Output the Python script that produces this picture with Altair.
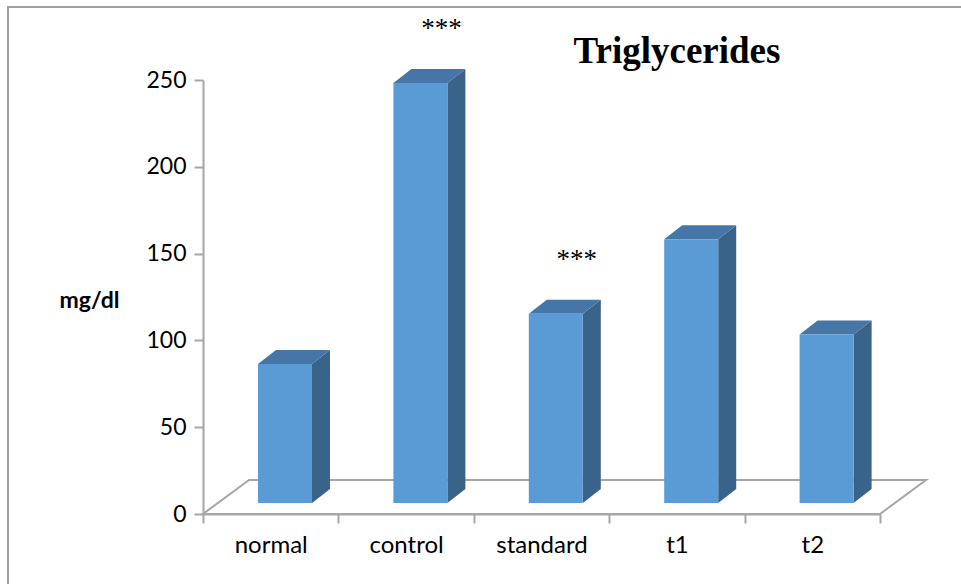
import altair as alt
import pandas as pd

# ---------------- data ----------------
categories = ["normal", "control", "standard", "t1", "t2"]
values = [80, 242, 109, 152, 97]
stars = ["", "***", "***", "", ""]
y_ticks = [0, 50, 100, 150, 200, 250]
chart_title = "Triglycerides"

# ---------------- layout / projection (style) ----------------
W, H = 677, 434
Y_MAX = 250
N = len(categories)
PX_X = W / N          # px per x unit
PX_Y = H / Y_MAX      # px per value unit
FRONT_L = 55 / PX_X   # front face left inside a category slot
FRONT_W = 54 / PX_X   # front face width
DEPTH_X = 18 / PX_X   # bar depth (oblique) horizontal
DEPTH_Y = 14 / PX_Y   # bar depth (oblique) vertical
BASE = 11 / PX_Y      # bar front base above the floor front edge
FLOOR_X = 46 / PX_X
FLOOR_Y = 34 / PX_Y
STAR_OFF = 31

FRONT = "#5B9BD5"
SIDE = "#3A6389"
TOP = "#4676A8"
GRAY = "#A6A6A6"

front_rows, side_rows, top_rows, star_rows = [], [], [], []
for i, (c, v, s) in enumerate(zip(categories, values, stars)):
    xl = i + FRONT_L
    xr = xl + FRONT_W
    front_rows.append(dict(cat=c, x=xl, x2=xr, y=BASE, y2=BASE + v))
    side_rows += [
        dict(cat=c, x=xr, y=BASE, y2=BASE + v),
        dict(cat=c, x=xr + DEPTH_X, y=BASE + DEPTH_Y, y2=BASE + v + DEPTH_Y),
    ]
    top_rows += [
        dict(cat=c, y=BASE + v, x=xl, x2=xr),
        dict(cat=c, y=BASE + v + DEPTH_Y, x=xl + DEPTH_X, x2=xr + DEPTH_X),
    ]
    if s:
        star_rows.append(dict(cat=c, s=s, x=xl + (FRONT_W + DEPTH_X) / 2,
                              y=BASE + v + STAR_OFF))

floor = pd.DataFrame([
    dict(y=0, x=0, x2=N),
    dict(y=FLOOR_Y, x=FLOOR_X, x2=N + FLOOR_X),
])

xscale = alt.Scale(domain=[0, N], nice=False, zero=False)
yscale = alt.Scale(domain=[0, Y_MAX], nice=False)

label_list = "[" + ",".join("'" + c + "'" for c in categories) + ",'']"
xaxis = alt.Axis(
    values=list(range(N + 1)), labelExpr=label_list + "[datum.value]",
    labelOffset=PX_X / 2, labelFlush=False, labelOverlap=False, labelBound=False,
    grid=False, domainColor=GRAY, domainWidth=2, tickColor=GRAY, tickWidth=2,
    tickSize=9, labelFont="Lato", labelFontSize=24, labelColor="#000000",
    labelPadding=10, title=None,
)
yaxis = alt.Axis(
    values=y_ticks, grid=False, domainColor=GRAY, domainWidth=2, tickColor=GRAY,
    tickWidth=2, tickSize=9, labelFont="Lato", labelFontSize=23,
    labelColor="#000000", labelPadding=8,
    title="mg/dl", titleAngle=0, titleFont="Lato", titleFontSize=23,
    titleFontWeight="bold", titleColor="#000000", titleX=-114, titleY=220,
    titleAlign="center", titleBaseline="middle",
)

def X(field="x"):
    return alt.X(field, type="quantitative", scale=xscale, axis=xaxis)

def Y(field="y"):
    return alt.Y(field, type="quantitative", scale=yscale, axis=yaxis)

one = pd.DataFrame([{"t": chart_title}])

frame = alt.Chart(one).mark_rect(
    filled=False, stroke="#A0A0A0", strokeWidth=2
).encode(
    x=alt.value(-195), x2=alt.value(900), y=alt.value(-73), y2=alt.value(700)
)

title_layer = alt.Chart(one).mark_text(
    font="Liberation Serif", fontSize=37, fontWeight="bold", color="#000000",
    align="center", baseline="alphabetic"
).encode(x=alt.value(474), y=alt.value(-17), text="t")

floor_layer = alt.Chart(floor).mark_area(
    orient="horizontal", fill="white", stroke=GRAY, strokeWidth=2
).encode(y=Y(), x=X(), x2="x2")

side_layer = alt.Chart(pd.DataFrame(side_rows)).mark_area(color=SIDE).encode(
    x=X(), y=Y(), y2="y2", detail="cat"
)
top_layer = alt.Chart(pd.DataFrame(top_rows)).mark_area(
    orient="horizontal", color=TOP
).encode(y=Y(), x=X(), x2="x2", detail="cat")
front_layer = alt.Chart(pd.DataFrame(front_rows)).mark_rect(color=FRONT).encode(
    x=X(), x2="x2", y=Y(), y2="y2"
)
star_layer = alt.Chart(pd.DataFrame(star_rows)).mark_text(
    font="Liberation Serif", fontSize=27, color="#000000", dx=12, baseline="middle"
).encode(x=X(), y=Y(), text="s")

chart = alt.layer(
    frame, floor_layer, side_layer, top_layer, front_layer, star_layer, title_layer
).properties(
    width=W, height=H,
    autosize=alt.AutoSizeParams(type="none"),
    padding={"left": 203, "top": 80, "right": 81, "bottom": 70},
).configure(
    background="white", view=alt.ViewConfig(stroke=None, strokeWidth=0)
)

chart.save("out.html", embed_options={"renderer": "svg", "actions": False})
